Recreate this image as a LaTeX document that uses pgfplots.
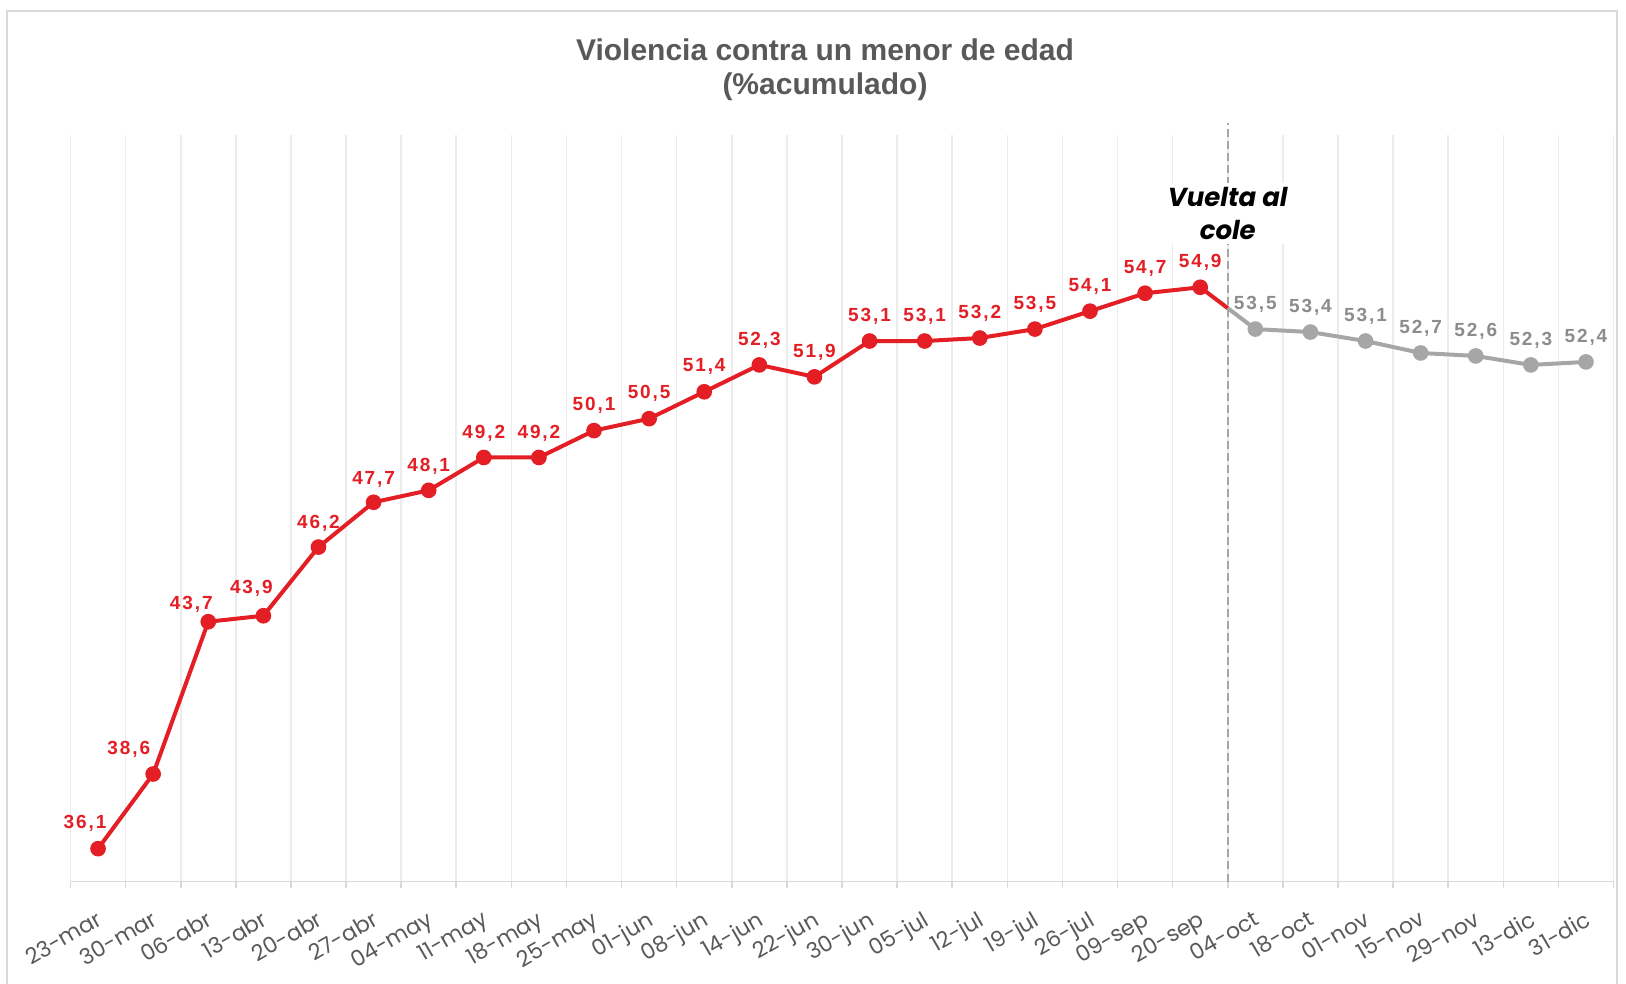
\documentclass[border=0pt]{standalone}
\usepackage{fontspec}
\setmainfont{Liberation Sans}
\newfontfamily\tickfont{Poppins}
\usepackage{pgfplots}
\usepackage{pgfplotstable}
\pgfplotsset{compat=1.18}

\definecolor{rojo}{RGB}{227,30,36}
\definecolor{gris}{RGB}{166,166,166}
\definecolor{grislab}{RGB}{140,140,140}
\definecolor{titulo}{RGB}{89,89,89}
\definecolor{rejilla}{RGB}{236,236,236}
\definecolor{eje}{RGB}{217,217,217}
\definecolor{borde}{RGB}{217,217,217}

% x = posicion de la fecha, dx/dy = desplazamiento de la etiqueta (pt)
\pgfplotstableread{
x  y     dx     dy
0  36.1  -6.5   12.8
1  38.6  -12.2  12.5
2  43.7  -8.5   8.5
3  43.9  -6     13.5
4  46.2  0      12
5  47.7  0      11.5
6  48.1  0      12
7  49.2  0      12
8  49.2  0      12
9  50.1  0      12.5
10 50.5  0      12.5
11 51.4  0      12.5
12 52.3  0      12.5
13 51.9  0      12.5
14 53.1  0      12.5
15 53.1  0      12.5
16 53.2  0      12.5
17 53.5  0      12.5
18 54.1  0      12.5
19 54.7  0      12.5
20 54.9  0      12.5
}\rojos

\pgfplotstableread{
x  y     dx  dy
21 53.5  0   12.5
22 53.4  0   12.5
23 53.1  0   12.5
24 52.7  0   12.5
25 52.6  0   12.5
26 52.3  0   12.5
27 52.4  0   12.5
}\grises

\pgfplotsset{
  etiquetas/.style={
    nodes near coords,
    visualization depends on={\thisrow{dx} \as \labx},
    visualization depends on={\thisrow{dy} \as \laby},
    nodes near coords style={anchor=center, xshift=\labx pt, yshift=\laby pt, text=#1,
        font=\fontsize{9.5}{11}\selectfont\bfseries\addfontfeature{LetterSpace=10}},
  }
}

\begin{document}
\begin{tikzpicture}
\path[use as bounding box] (0,0) rectangle (813pt,492pt);
\draw[borde, line width=0.6pt] (3.5pt,0) -- (3.5pt,486.5pt) -- (808.5pt,486.5pt) -- (808.5pt,0);

\node[text=titulo, font=\fontsize{15}{17}\selectfont\bfseries] at (412.5pt,467pt) {Violencia contra un menor de edad};
\node[text=titulo, font=\fontsize{15}{17}\selectfont\bfseries] at (412.5pt,448.5pt) {(\%acumulado)};

\begin{axis}[
    at={(35.25pt,51.25pt)}, anchor=south west,
    width=771.5pt, height=373.25pt,
    scale only axis,
    xmin=-0.5, xmax=27.5,
    ymin=35, ymax=60,
    axis x line=bottom, axis y line=none,
    x axis line style={-, eje, line width=0.8pt},
    xtick={0,...,27},
    xticklabels={23-mar,30-mar,06-abr,13-abr,20-abr,27-abr,04-may,11-may,18-may,25-may,01-jun,08-jun,14-jun,22-jun,30-jun,05-jul,12-jul,19-jul,26-jul,09-sep,20-sep,04-oct,18-oct,01-nov,15-nov,29-nov,13-dic,31-dic},
    minor xtick={-0.5,0.5,...,27.5},
    major tick length=0pt,
    minor tick length=3pt,
    tick align=outside,
    tick style={eje, line width=0.8pt},
    xminorgrids=true,
    minor grid style={rejilla, line width=0.8pt},
    xticklabel style={font=\tickfont\fontsize{11}{12}\selectfont, text=titulo,
        yshift=-9.4pt, rotate=30, anchor=north east},
    clip=false,
    /pgf/number format/.cd, use comma, fixed, fixed zerofill, precision=1, assume math mode=true,
    /pgfplots/.cd,
]

\addplot[rojo, line width=2pt, no marks, shorten >=17.29pt] coordinates {(20,54.9) (21,53.5)};
\addplot[gris, line width=2pt, no marks, shorten <=17.29pt] coordinates {(20,54.9) (21,53.5)};

\addplot[rojo, line width=2pt, mark=*, mark size=2.9pt, mark options={solid, fill=rojo},
    etiquetas=rojo] table {\rojos};
\addplot[gris, line width=2pt, mark=*, mark size=2.9pt, mark options={solid, fill=gris},
    etiquetas=grislab] table {\grises};

\draw[gris, line width=1.2pt, dash pattern=on 4pt off 2pt] (axis cs:20.5,35) -- (axis cs:20.5,60.4);
\node[fill=white, align=center, inner sep=2pt, text=black,
    font=\tickfont\fontsize{13}{16.5}\selectfont\bfseries\itshape] at (axis cs:20.5,57.37) {Vuelta al\\cole};

\end{axis}
\end{tikzpicture}
\end{document}
